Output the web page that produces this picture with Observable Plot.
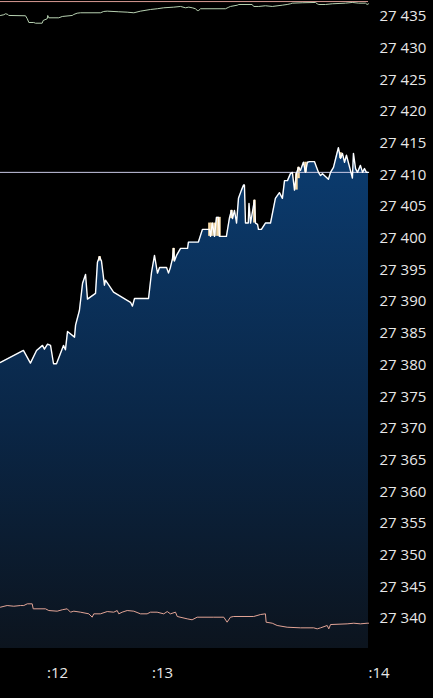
<!DOCTYPE html>
<html>
<head>
<meta charset="utf-8">
<script src="https://cdn.jsdelivr.net/npm/d3@7"></script>
<script src="https://cdn.jsdelivr.net/npm/@observablehq/plot@0.6"></script>
<style>
  html, body { margin: 0; padding: 0; background: #000; }
  #chart { width: 433px; height: 698px; overflow: hidden; }
</style>
</head>
<body>
<div id="chart"></div>
<script>
// time in seconds (minute :12 starts at 60), price values
const priceT = [27.4,40.5,44.5,48.0,51.4,52.5,54.3,56.0,57.7,59.4,63.4,64.5,65.7,69.7,70.3,72.5,74.3,76.0,77.1,81.7,82.8,84.0,85.1,86.8,87.4,92.0,101.7,102.8,104.0,112.0,113.7,115.4,117.1,118.3,122.3,123.4,124.5,125.7,126.3,126.8,128.0,130.3,134.3,134.8,140.5,142.8,146.8,147.4,148.5,149.7,150.8,152.0,152.5,156.5,158.3,159.4,160.0,161.1,162.3,163.4,165.1,166.3,166.8,167.4,169.0,169.4,170.3,172.5,173.1,174.3,174.8,176.5,178.8,181.7,184.5,186.8,188.5,189.7,191.4,193.1,194.2,195.4,196.5,197.7,198.8,200.5,201.7,202.8,204.0,206.8,208.0,209.1,210.3,211.4,214.8,216.0,217.7,219.4,220.5,221.7,222.8,224.0,225.1,227.4,228.5,229.1,230.3,231.4,233.1,234.3,235.4,236.5,237.7];
const priceV = [27380.4,27382.3,27380.3,27382.3,27383.1,27382.5,27383.3,27383.1,27380.2,27380.2,27383.1,27382.4,27385.3,27384.4,27386.3,27388.6,27392.9,27394.3,27390.4,27391.3,27396.2,27397.1,27396.4,27392.6,27393.4,27391.5,27389.9,27389.3,27390.5,27390.5,27394.6,27397.3,27394.5,27395.4,27395.4,27394.5,27395.4,27396.8,27398.4,27396.4,27397.3,27398.4,27398.4,27399.4,27399.4,27401.4,27401.4,27400.3,27402.4,27400.3,27403.3,27403.3,27400.3,27400.3,27403.3,27404.4,27403.1,27404.4,27402.4,27406.3,27407.6,27408.4,27408.4,27402.4,27402.4,27405.5,27402.4,27406.0,27402.4,27402.2,27401.4,27401.4,27402.4,27402.4,27406.3,27407.2,27406.3,27409.1,27409.1,27410.2,27410.4,27407.6,27410.2,27411.2,27410.7,27412.0,27410.4,27412.0,27412.1,27412.1,27411.2,27410.4,27409.9,27410.2,27409.3,27410.4,27411.2,27413.1,27414.3,27412.6,27413.4,27412.0,27413.1,27410.7,27409.5,27413.4,27411.0,27410.4,27411.5,27410.4,27411.0,27410.4,27410.4];

// highlighted ticks (cream)
const hlT  = [84.0,126.3,146.8,148.0,149.7,151.4,152.5,159.4,172.5,196.5,197.7,201.7,221.7];
const hlLo = [27396.4,27396.4,27400.3,27400.3,27400.3,27400.3,27400.3,27403.1,27402.4,27407.6,27409.4,27410.4,27412.6];
const hlHi = [27397.1,27398.4,27402.4,27402.4,27402.4,27403.3,27403.3,27404.4,27406.0,27410.2,27411.2,27412.0,27413.5];

// upper (green) series
const upperT = [27.4,29.3,30.3,31.6,32.1,41.7,42.7,43.6,46.4,47.4,51.2,51.8,54.1,54.4,55.0,60.7,62.7,68.4,69.3,71.2,73.1,84.5,86.4,88.4,95.0,99.8,103.6,107.4,113.1,117.0,120.7,126.4,130.3,133.1,135.0,137.0,138.8,139.8,140.7,141.7,156.0,157.9,158.8,162.7,163.6,171.2,172.1,175.0,178.8,182.7,188.4,191.2,193.1,194.1,199.8,207.4,208.4,209.3,213.1,217.0,224.5,228.4,232.1,236.0,236.9,237.7];
const upperV = [27435.16,27435.27,27435.43,27435.32,27435.16,27435.11,27434.64,27434.05,27434.05,27433.94,27433.94,27434.37,27434.64,27435.16,27434.79,27434.79,27435.0,27435.16,27435.32,27435.52,27435.58,27435.58,27435.79,27435.84,27435.74,27435.68,27435.58,27435.84,27436.1,27436.22,27436.37,27436.47,27436.58,27436.37,27436.47,27436.37,27436.22,27435.95,27435.95,27436.22,27436.22,27436.47,27436.58,27436.78,27436.89,27436.89,27436.58,27436.58,27436.69,27436.58,27436.78,27436.89,27437.0,27437.1,27437.16,27437.21,27437.0,27436.89,27436.89,27437.0,27437.1,27437.21,27437.1,27437.1,27436.89,27437.0];

// top (red) constant band
const topLevel = 27437.35;

// lower (salmon) series
const lowerT = [27.4,31.2,35.0,38.8,40.7,42.7,45.5,46.1,53.1,55.0,59.8,62.7,65.5,67.4,69.3,73.1,77.9,79.8,80.7,84.5,88.4,92.1,94.1,95.0,96.9,99.8,103.6,107.4,111.2,113.1,116.9,120.7,122.7,124.5,127.4,128.4,134.1,136.9,139.8,149.3,155.0,156.9,158.8,160.7,172.1,176.0,178.8,179.2,182.7,185.5,191.2,198.8,206.4,208.4,210.3,214.1,215.0,216.0,225.5,229.3,233.1,236.9,237.7];
const lowerV = [27341.79,27342.05,27341.94,27342.05,27342.05,27342.32,27342.32,27341.53,27341.53,27341.26,27341.16,27341.38,27341.53,27341.0,27341.16,27341.0,27340.74,27340.21,27340.74,27340.74,27341.1,27341.0,27341.26,27340.74,27341.0,27341.26,27341.16,27340.74,27340.74,27341.0,27341.0,27340.74,27341.1,27340.74,27341.0,27340.32,27339.95,27339.8,27340.21,27340.21,27340.21,27339.42,27340.21,27340.32,27340.32,27340.63,27340.74,27339.42,27339.26,27338.9,27338.63,27338.53,27338.53,27338.37,27338.53,27338.9,27338.37,27339.05,27339.16,27339.26,27339.16,27339.26,27339.26];

// last price reference line
const lastPrice = 27410.4;

// axes
const yTicks = d3.range(27340, 27436, 5);
const xTickT = [60, 120];
const xTickLabels = [":12", ":13"];
const xEndLabel = ":14";

const yDomain = [27335.27, 27437.52];
const xDomain = [priceT[0], priceT[priceT.length - 1]];

const price = priceT.map((t, i) => ({t, v: priceV[i]}));
const upper = upperT.map((t, i) => ({t, v: upperV[i]}));
const lower = lowerT.map((t, i) => ({t, v: lowerV[i]}));
const hl = hlT.map((t, i) => ({t, lo: hlLo[i], hi: hlHi[i]}));
const xt = xTickT.map((t, i) => ({t, label: xTickLabels[i]}));

const fmt = d => `${Math.floor(d / 1000)} ${String(d % 1000).padStart(3, "0")}`;

const chart = Plot.plot({
  width: 433,
  height: 698,
  marginLeft: 0,
  marginRight: 65,
  marginTop: 0,
  marginBottom: 50,
  style: {background: "#000", fontFamily: "'Open Sans', sans-serif"},
  x: {domain: xDomain, axis: null},
  y: {domain: yDomain, axis: null},
  marks: [
    Plot.areaY(price, {x: "t", y1: yDomain[0], y2: "v", fill: "url(#pgrad)"}),
    Plot.ruleX(hl, {x: "t", y1: "lo", y2: "hi", stroke: "#f6d9a6", strokeWidth: 2.6}),
    Plot.ruleY([lastPrice], {stroke: "#c9c9e6", strokeWidth: 1}),
    Plot.lineY(price, {x: "t", y: "v", stroke: "#ffffff", strokeWidth: 1.4}),
    Plot.ruleY([topLevel], {x1: xDomain[0], x2: xDomain[1], stroke: "#d99a94", strokeWidth: 1}),
    Plot.lineY(upper, {x: "t", y: "v", stroke: "#b8d2b2", strokeWidth: 1}),
    Plot.lineY(lower, {x: "t", y: "v", stroke: "#e2a496", strokeWidth: 1}),
    Plot.axisY(yTicks, {anchor: "right", tickSize: 0, tickPadding: 11, tickFormat: fmt, textAnchor: "start", fontSize: 15, fill: "#e8e8e8"}),
    Plot.text(xt, {x: "t", text: "label", frameAnchor: "bottom", dy: 25, lineAnchor: "middle", fontSize: 15, fill: "#e8e8e8"}),
    Plot.text([xEndLabel], {x: xDomain[1], text: d => d, frameAnchor: "bottom", dy: 25, lineAnchor: "middle", textAnchor: "start", fontSize: 15, fill: "#e8e8e8"})
  ]
});

d3.select(chart).insert("defs", ":first-child").html(
  `<linearGradient id="pgrad" x1="0" y1="0" x2="0" y2="1">
     <stop offset="0" stop-color="#0b3c70"/>
     <stop offset="0.55" stop-color="#0a2646"/>
     <stop offset="1" stop-color="#0c141e"/>
   </linearGradient>`
);

document.getElementById("chart").appendChild(chart);
</script>
</body>
</html>
